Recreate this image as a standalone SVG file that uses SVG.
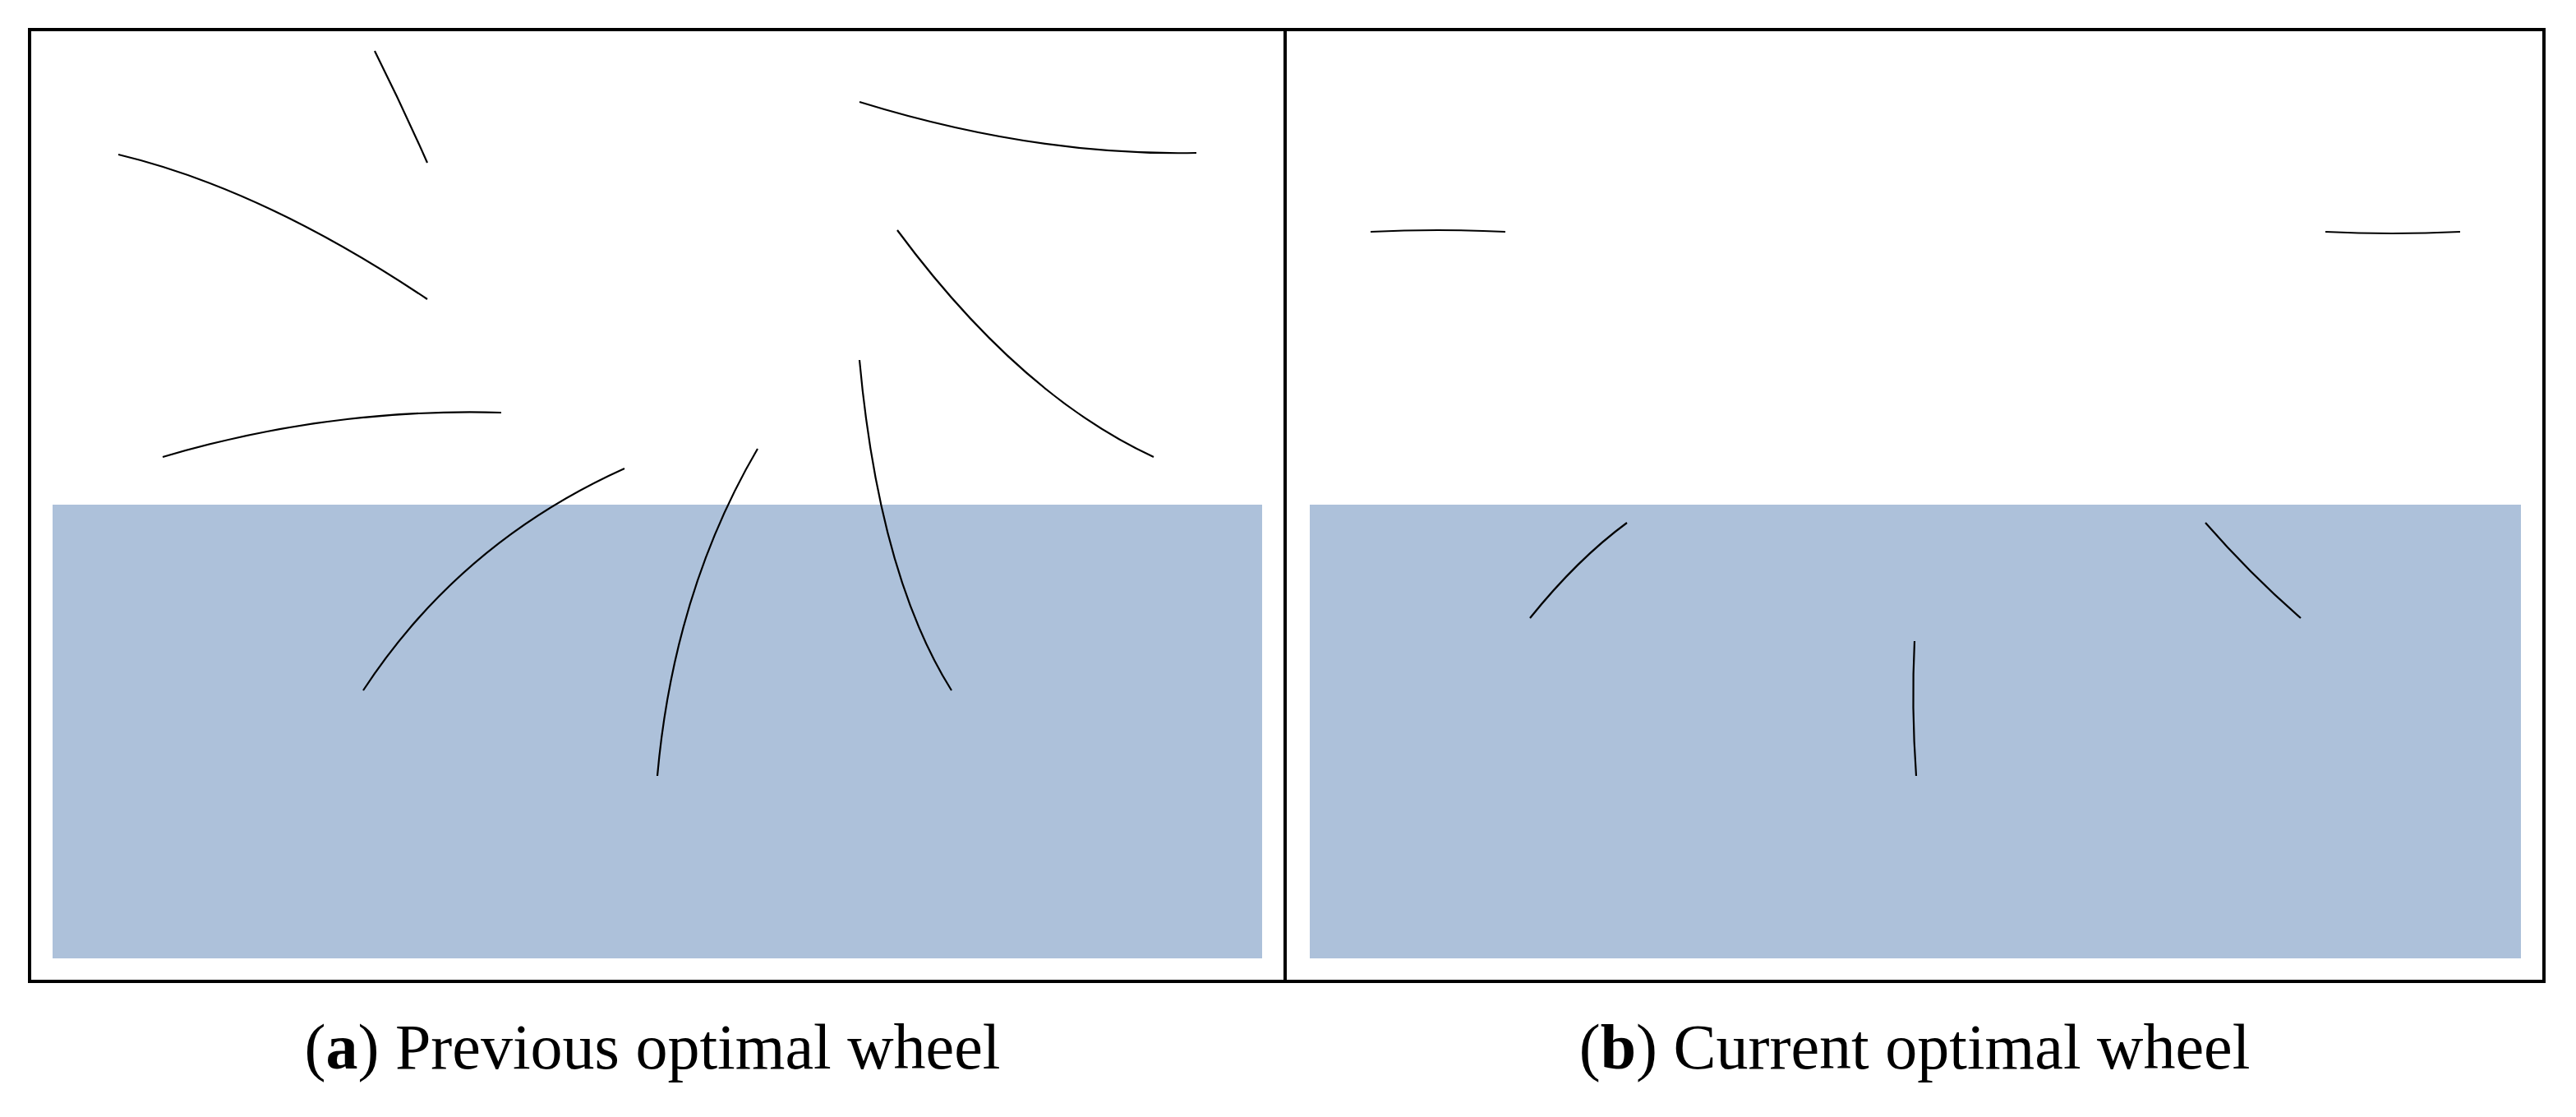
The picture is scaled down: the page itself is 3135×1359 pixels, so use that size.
<svg xmlns="http://www.w3.org/2000/svg" width="3135" height="1359" viewBox="0 0 3135 1359">
<style>
.c{fill:none;stroke:#000;stroke-width:2.2}
.w{fill:#adc1da}
.t{font-family:"Liberation Serif",serif;font-size:78px;fill:#000}
</style>
<rect width="3135" height="1359" fill="#fff"/>
<g id="panel-a">
<rect class="w" x="64" y="614" width="1472" height="552"/>
<path class="c" d="M456,62 Q490,130 520,198"/>
<path class="c" d="M144,188 Q320,230 520,364"/>
<path class="c" d="M198,556 Q400,496 610,502"/>
<path class="c" d="M1046,124 Q1260,190 1456,186"/>
<path class="c" d="M1092,280 Q1240,480 1404,556"/>
<path class="c" d="M1046,438 Q1070,700 1158,840"/>
<path class="c" d="M922,546 Q820,720 800,944"/>
<path class="c" d="M760,570 Q560,660 442,840"/>
</g>
<g id="panel-b">
<rect class="w" x="1594" y="614" width="1474" height="552"/>
<path class="c" d="M1668,282 Q1750,278 1832,282"/>
<path class="c" d="M2830,282 Q2910,286 2994,282"/>
<path class="c" d="M1980,636 Q1920,680 1862,752"/>
<path class="c" d="M2684,636 Q2740,700 2800,752"/>
<path class="c" d="M2330,780 Q2326,860 2332,944"/>
</g>
<g id="frame">
<rect x="36" y="36" width="3060" height="1158" fill="none" stroke="#000" stroke-width="4"/>
<line x1="1564" y1="36" x2="1564" y2="1194" stroke="#000" stroke-width="4"/>
</g>
<text class="t" x="794" y="1300" text-anchor="middle">(<tspan font-weight="bold">a</tspan>) Previous optimal wheel</text>
<text class="t" x="2330" y="1300" text-anchor="middle">(<tspan font-weight="bold">b</tspan>) Current optimal wheel</text>
</svg>
